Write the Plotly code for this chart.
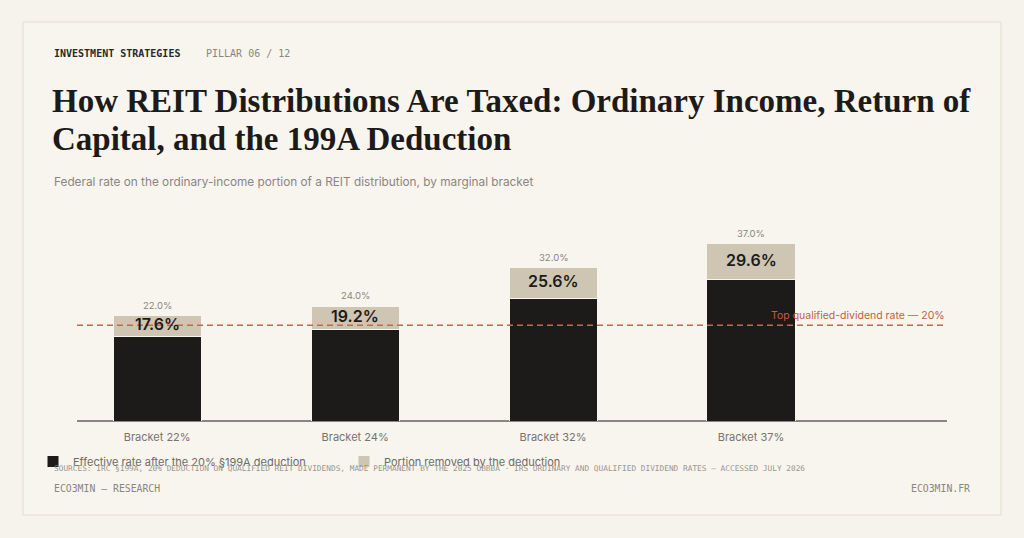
import plotly.graph_objects as go

# data
brackets = ["Bracket 22%", "Bracket 24%", "Bracket 32%", "Bracket 37%"]
marginal_rate = [22.0, 24.0, 32.0, 37.0]
effective_rate = [17.6, 19.2, 25.6, 29.6]
removed = [round(m - e, 1) for m, e in zip(marginal_rate, effective_rate)]
qualified_top = 20

W, H = 1024, 538
BG = "#f6f3ec"
CARD = "#f8f5ef"
DARK = "#1c1b1a"
TAN = "#cec5b2"
RED = "#c8664a"
GREY = "#8a8580"

def px(x):
    return x / W

def py(y):
    return 1 - y / H

fig = go.Figure()

fig.add_trace(go.Bar(
    x=brackets, y=effective_rate,
    name="Effective rate after the 20% §199A deduction",
    marker=dict(color=DARK, line=dict(color=CARD, width=1)),
    width=0.445, hoverinfo="skip",
))
fig.add_trace(go.Bar(
    x=brackets, y=removed,
    name="Portion removed by the deduction",
    marker=dict(color=TAN, line=dict(color=CARD, width=1)),
    width=0.445, hoverinfo="skip",
))

# reference line for the top qualified-dividend rate
fig.add_shape(type="line", xref="x domain", yref="y", x0=0, x1=1,
              y0=qualified_top, y1=qualified_top,
              line=dict(color=RED, width=1.5, dash="6px,4px"))
fig.add_annotation(xref="x domain", yref="y", x=1, y=qualified_top,
                   text="Top qualified-dividend rate — 20%", showarrow=False,
                   xanchor="right", yanchor="bottom", yshift=1,
                   font=dict(family="Inter", size=10.5, color="#c0603f"))

# labels on the bars
for b, m, e in zip(brackets, marginal_rate, effective_rate):
    fig.add_annotation(x=b, y=m, text=f"{m:.1f}%", showarrow=False,
                       yanchor="bottom", yshift=3,
                       font=dict(family="Inter", size=9.5, color=GREY))
    fig.add_annotation(x=b, y=(m + e) / 2, text=f"{e:.1f}%", showarrow=False,
                       yanchor="middle", yshift=2,
                       font=dict(family="Inter", size=16, color=DARK, weight=600))

# card frame
fig.add_shape(type="rect", xref="paper", yref="paper", layer="below",
              x0=px(23), x1=px(1001), y0=py(515), y1=py(22),
              fillcolor=CARD, line=dict(color="#e2ddcf", width=1))

# header texts
fig.add_annotation(xref="paper", yref="paper", x=px(52), y=py(53),
                   text="<b>INVESTMENT STRATEGIES</b>", showarrow=False,
                   xanchor="left", yanchor="middle",
                   font=dict(family="DejaVu Sans Mono", size=10, color="#2a2826"))
fig.add_annotation(xref="paper", yref="paper", x=px(204), y=py(53),
                   text="PILLAR 06 / 12", showarrow=False,
                   xanchor="left", yanchor="middle",
                   font=dict(family="DejaVu Sans Mono", size=10, color=GREY))
title_lines = ["How REIT Distributions Are Taxed: Ordinary Income, Return of",
               "Capital, and the 199A Deduction"]
for i, line in enumerate(title_lines):
    fig.add_annotation(xref="paper", yref="paper", x=px(50), y=py(101 + 38 * i),
                       text=line, showarrow=False,
                       xanchor="left", yanchor="middle",
                       font=dict(family="Liberation Serif", size=33, color=DARK, weight=600))
fig.add_annotation(xref="paper", yref="paper", x=px(52), y=py(182),
                   text="Federal rate on the ordinary-income portion of a REIT distribution, by marginal bracket",
                   showarrow=False, xanchor="left", yanchor="middle",
                   font=dict(family="Inter", size=11.8, color=GREY))

# footer texts
fig.add_annotation(xref="paper", yref="paper", x=px(52), y=py(468),
                   text="SOURCES: IRC §199A, 20% DEDUCTION ON QUALIFIED REIT DIVIDENDS, MADE PERMANENT BY THE 2025 OBBBA · IRS ORDINARY AND QUALIFIED DIVIDEND RATES — ACCESSED JULY 2026",
                   showarrow=False, xanchor="left", yanchor="middle",
                   font=dict(family="DejaVu Sans Mono", size=7.8, color="#9a958d"))
fig.add_annotation(xref="paper", yref="paper", x=px(52), y=py(488),
                   text="ECO3MIN — RESEARCH", showarrow=False,
                   xanchor="left", yanchor="middle",
                   font=dict(family="DejaVu Sans Mono", size=9.8, color=GREY))
fig.add_annotation(xref="paper", yref="paper", x=px(972), y=py(488),
                   text="ECO3MIN.FR", showarrow=False,
                   xanchor="right", yanchor="middle",
                   font=dict(family="DejaVu Sans Mono", size=9.8, color=GREY))

fig.update_layout(
    width=W, height=H,
    margin=dict(l=0, r=0, t=0, b=0),
    paper_bgcolor=BG, plot_bgcolor="rgba(0,0,0,0)",
    barmode="stack", bargap=0.555,
    showlegend=True,
    legend=dict(orientation="h", x=px(33), y=py(447), xanchor="left", yanchor="top",
                traceorder="normal",
                bgcolor="rgba(0,0,0,0)", entrywidth=266, entrywidthmode="pixels",
                font=dict(family="Inter", size=11, color="#6e6a64"),
                itemclick=False, itemdoubleclick=False),
    xaxis=dict(domain=[px(77), px(947)], range=[-0.405, 3.99],
               showgrid=False, zeroline=False, showline=False,
               ticks="", ticklabelstandoff=8,
               tickfont=dict(family="Inter", size=11, color="#77736d")),
    yaxis=dict(domain=[py(421), py(229.6)], range=[0, 40],
               showgrid=False, zeroline=True, zerolinecolor="#8a8580", zerolinewidth=1.5,
               showline=False, showticklabels=False, ticks=""),
)

fig.write_html("out.html", config={"displayModeBar": False},
               post_script="document.body.style.margin='0';")
